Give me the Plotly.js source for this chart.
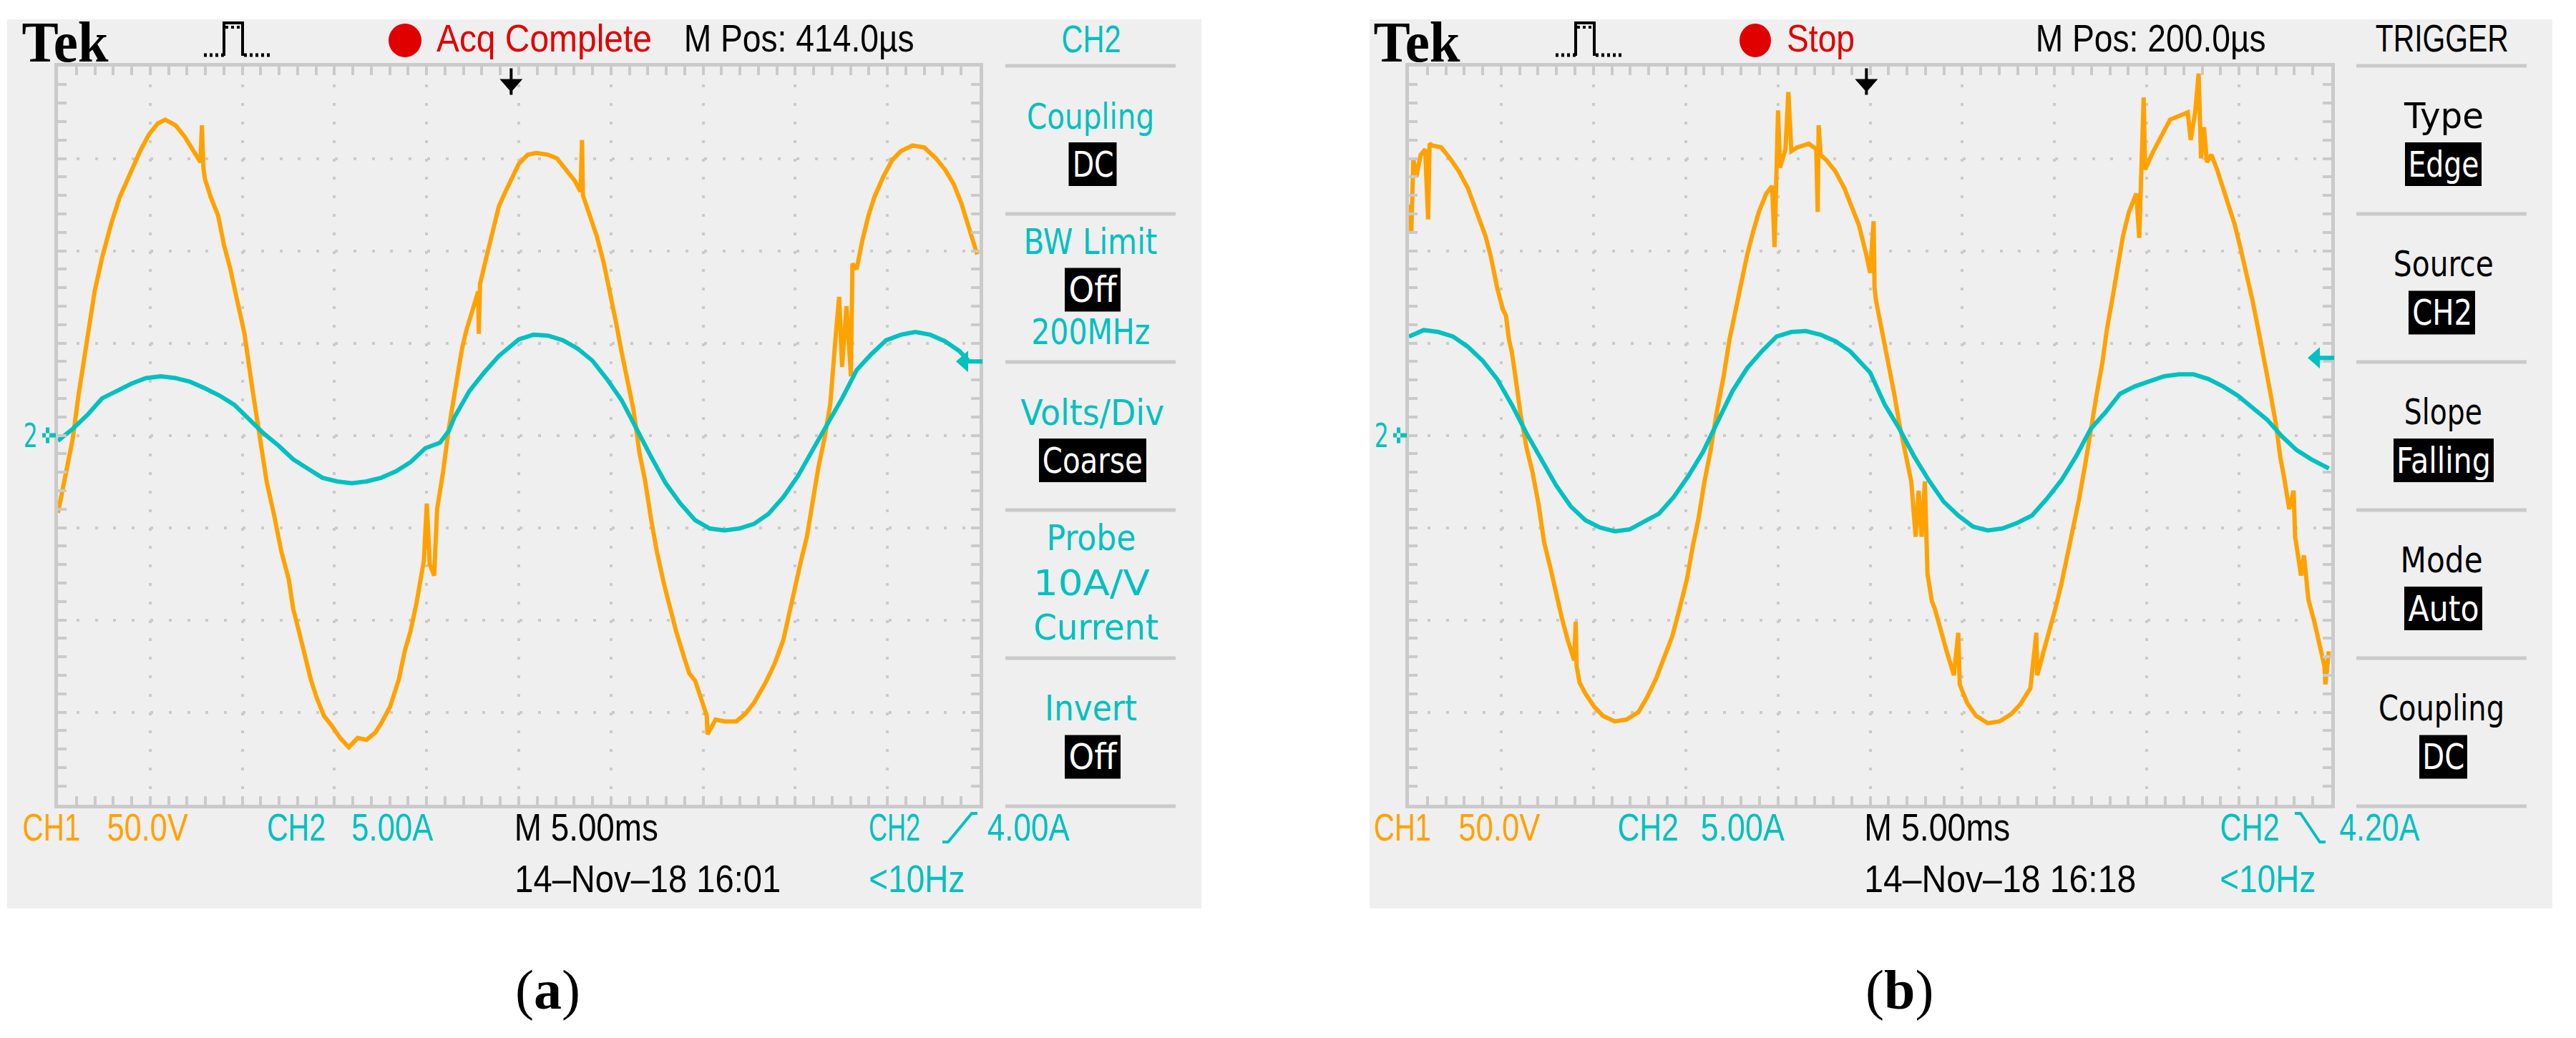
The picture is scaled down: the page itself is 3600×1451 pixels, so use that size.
<!DOCTYPE html>
<html><head><meta charset="utf-8">
<script src="https://cdn.plot.ly/plotly-3.0.1.min.js"></script>
<style>html,body{margin:0;padding:0;background:#fff;}#chart{width:3600px;height:1451px;}</style>
</head><body><div id="chart"></div>
<script>
// ---------------- DATA (time in ms from left edge of screen, CH1 in V, CH2 in A) ----------------
const ch1A = [[0.00,-42],[0.48,-17],[0.80,-2],[1.12,22],[1.43,42],[1.67,57],[1.99,78],[2.39,96],[2.87,114],[3.35,129],[3.91,142],[4.46,154],[4.94,163],[5.42,169],[5.82,171],[6.38,168],[6.86,162],[7.33,154],[7.73,148],[7.81,168],[7.89,145],[7.97,139],[8.29,129],[8.69,119],[9.01,103],[9.33,91],[9.73,73],[10.12,55],[10.52,27],[11.00,-4],[11.32,-25],[11.72,-43],[12.12,-63],[12.52,-78],[12.76,-94],[13.07,-106],[13.39,-119],[13.71,-132],[14.03,-142],[14.43,-152],[14.83,-157],[15.31,-164],[15.78,-169],[16.26,-164],[16.74,-165],[17.22,-161],[17.54,-156],[18.02,-147],[18.50,-132],[18.81,-117],[19.13,-106],[19.45,-91],[19.85,-68],[20.01,-37],[20.17,-70],[20.41,-76],[20.57,-40],[20.89,-20],[21.21,4],[21.44,19],[21.68,34],[21.92,47],[22.16,57],[22.48,68],[22.80,78],[22.83,55],[22.90,82],[23.28,98],[23.60,111],[23.92,124],[24.23,131],[24.63,140],[25.00,147],[25.48,152],[25.96,153],[26.59,152],[27.07,150],[27.55,144],[28.03,138],[28.35,132],[28.43,160],[28.48,130],[28.83,119],[29.23,108],[29.62,93],[29.94,78],[30.26,62],[30.58,45],[30.90,29],[31.22,14],[31.54,-9],[31.86,-25],[32.17,-45],[32.49,-63],[32.89,-81],[33.21,-94],[33.53,-106],[33.93,-119],[34.25,-129],[34.57,-133],[34.89,-143],[35.20,-152],[35.24,-162],[35.68,-154],[36.16,-155],[36.80,-155],[37.28,-151],[37.76,-145],[38.39,-134],[38.87,-124],[39.35,-111],[39.67,-96],[39.99,-83],[40.31,-68],[40.63,-55],[40.94,-35],[41.26,-17],[41.58,-2],[41.90,17],[42.22,57],[42.38,75],[42.54,37],[42.78,70],[43.02,32],[43.10,93],[43.33,90],[43.65,106],[43.97,119],[44.29,129],[44.77,140],[45.25,149],[45.73,154],[46.36,157],[47.00,156],[47.64,150],[48.12,144],[48.60,136],[49.00,126],[49.31,116],[49.63,106],[49.87,98]];
const ch2A = [[0,-0.3],[0.80,0.35],[1.59,1.1],[2.39,2.0],[3.19,2.4],[3.99,2.8],[4.78,3.1],[5.58,3.2],[6.38,3.1],[7.17,2.9],[7.97,2.55],[8.77,2.15],[9.57,1.65],[10.36,0.85],[11.16,0.1],[11.96,-0.55],[12.76,-1.3],[13.55,-1.8],[14.35,-2.3],[15.15,-2.5],[15.94,-2.6],[16.74,-2.5],[17.54,-2.3],[18.34,-1.95],[19.13,-1.45],[19.93,-0.7],[20.73,-0.4],[21.21,0.25],[21.52,1.0],[22.32,2.4],[23.12,3.4],[23.92,4.3],[25.00,5.2],[25.80,5.45],[26.59,5.4],[27.39,5.15],[28.19,4.7],[28.99,4.05],[29.78,3.05],[30.58,1.9],[31.38,0.35],[32.17,-1.15],[32.97,-2.6],[33.77,-3.7],[34.57,-4.6],[35.36,-5.05],[36.16,-5.15],[36.96,-5.05],[37.76,-4.8],[38.55,-4.25],[39.35,-3.35],[40.15,-2.2],[40.94,-0.8],[41.74,0.6],[42.54,2.0],[43.34,3.55],[44.13,4.4],[44.93,5.15],[45.73,5.45],[46.52,5.6],[47.32,5.45],[48.12,5.1],[48.92,4.55],[49.39,4.05]];
const ch1B = [[0.00,125],[0.13,110],[0.24,150],[0.40,140],[0.64,152],[0.88,155],[1.04,117],[1.12,158],[1.28,157],[1.75,156],[2.23,150],[2.71,143],[3.19,134],[3.67,121],[4.15,108],[4.46,96],[4.78,80],[5.10,68],[5.26,65],[5.42,52],[5.58,45],[5.74,34],[6.06,11],[6.38,-7],[6.70,-20],[7.02,-37],[7.33,-58],[7.65,-71],[7.97,-86],[8.29,-99],[8.61,-111],[8.96,-122],[9.04,-101],[9.09,-125],[9.25,-134],[9.57,-140],[10.04,-147],[10.52,-152],[11.16,-155],[11.80,-154],[12.44,-150],[12.91,-142],[13.39,-132],[13.87,-119],[14.27,-109],[14.67,-94],[15.07,-78],[15.39,-60],[15.70,-45],[16.02,-25],[16.34,-9],[16.66,11],[17.06,32],[17.38,52],[17.70,68],[18.02,83],[18.34,98],[18.65,110],[18.97,121],[19.37,131],[19.69,135],[19.82,102],[19.90,138],[20.01,176],[20.12,145],[20.41,155],[20.57,186],[20.73,154],[21.05,156],[21.68,158],[22.08,155],[22.16,121],[22.21,168],[22.32,152],[22.64,149],[23.12,143],[23.60,134],[23.99,124],[24.39,114],[24.79,98],[25.00,88],[25.19,116],[25.24,80],[25.32,73],[25.64,57],[25.96,40],[26.28,24],[26.59,6],[26.91,-9],[27.23,-25],[27.47,-55],[27.63,-30],[27.79,-55],[27.97,-25],[28.11,-75],[28.35,-90],[28.51,-94],[28.83,-106],[29.15,-117],[29.54,-130],[29.78,-107],[29.86,-135],[30.26,-145],[30.74,-152],[31.38,-156],[32.02,-155],[32.65,-151],[33.13,-146],[33.69,-137],[34.01,-107],[34.06,-130],[34.41,-117],[34.73,-106],[35.04,-94],[35.36,-81],[35.68,-66],[36.00,-50],[36.32,-35],[36.64,-17],[36.96,4],[37.28,22],[37.60,40],[37.83,57],[38.15,75],[38.47,93],[38.71,108],[39.03,121],[39.43,131],[39.59,107],[39.67,135],[39.83,183],[39.91,144],[40.31,153],[40.78,162],[41.26,171],[41.74,173],[42.22,175],[42.38,160],[42.62,175],[42.81,196],[42.94,150],[43.10,167],[43.26,148],[43.50,152],[43.81,144],[44.13,134],[44.45,124],[44.77,114],[45.09,101],[45.41,88],[45.73,73],[46.05,57],[46.36,42],[46.68,24],[47.00,6],[47.24,-12],[47.48,-25],[47.72,-40],[47.96,-30],[48.04,-55],[48.12,-60],[48.36,-76],[48.52,-65],[48.76,-89],[49.08,-101],[49.39,-114],[49.63,-125],[49.68,-135],[49.87,-117]];
const ch2B = [[0,5.35],[0.80,5.7],[1.59,5.6],[2.39,5.35],[3.19,4.8],[3.99,4.05],[4.78,3.05],[5.58,1.65],[6.38,0.1],[7.17,-1.3],[7.97,-2.7],[8.77,-3.85],[9.57,-4.6],[10.36,-5.0],[11.16,-5.2],[11.96,-5.1],[12.76,-4.7],[13.55,-4.25],[14.35,-3.35],[15.15,-2.2],[15.94,-0.9],[16.74,0.75],[17.54,2.4],[18.34,3.65],[19.13,4.55],[19.93,5.35],[20.73,5.6],[21.52,5.65],[22.32,5.45],[23.12,5.1],[23.92,4.55],[25.00,3.4],[25.80,1.65],[26.59,0.35],[27.39,-1.15],[28.19,-2.45],[28.99,-3.6],[29.78,-4.35],[30.58,-4.95],[31.38,-5.15],[32.17,-5.05],[32.97,-4.75],[33.77,-4.35],[34.57,-3.45],[35.36,-2.45],[36.16,-1.15],[36.96,0.35],[37.76,1.25],[38.55,2.25],[39.35,2.65],[40.15,2.95],[40.94,3.2],[41.74,3.3],[42.54,3.3],[43.34,3.05],[44.13,2.65],[44.93,2.15],[45.73,1.5],[46.52,0.85],[47.32,-0.05],[48.12,-0.8],[48.92,-1.3],[49.87,-1.8]];

const msPerDiv = 5, voltsPerDiv = 50, ampsPerDiv = 5, divX = 10, divY = 8;
const mPosA = 0.414, mPosB = 0.200;          // ms, horizontal trigger position
const trigLevelA = 4.00, trigLevelB = 4.20;  // A, CH2 trigger level

// text labels
const topTextA = ['Tek', 'Acq Complete', 'M Pos: 414.0µs'];
const topTextB = ['Tek', 'Stop', 'M Pos: 200.0µs'];
const bottomTextA = ['CH1', '50.0V', 'CH2', '5.00A', 'M 5.00ms', 'CH2', '4.00A', '14–Nov–18 16:01', '<10Hz'];
const bottomTextB = ['CH1', '50.0V', 'CH2', '5.00A', 'M 5.00ms', 'CH2', '4.20A', '14–Nov–18 16:18', '<10Hz'];
const menuTextA = ['CH2', 'Coupling', 'DC', 'BW Limit', 'Off', '200MHz', 'Volts/Div', 'Coarse', 'Probe', '10A/V', 'Current', 'Invert', 'Off'];
const menuTextB = ['TRIGGER', 'Type', 'Edge', 'Source', 'CH2', 'Slope', 'Falling', 'Mode', 'Auto', 'Coupling', 'DC'];
const captions = ['a', 'b'];

// ---------------- STYLE / LAYOUT ----------------
const W = 3600, H = 1451;
const ORANGE = '#FFA200', CYAN = '#00C0C0', GRID = '#CACACA', PANEL = '#EFEFEF', RED = '#E00000';
const SANS = '"DejaVu Sans","Liberation Sans",sans-serif';
const STATUS = '"Liberation Sans",Arial,sans-serif';
const SERIF = '"Liberation Serif","Times New Roman",serif';
const px = x => x / W, py = y => 1 - y / H;

const plotY = [92.5, 1124.5];
const plotAx = [81, 1369], plotBx = [1969, 3258];

function xAxis(dom, anchor) {
  return {domain:[px(dom[0]), px(dom[1])], anchor, range:[0, msPerDiv*divX], fixedrange:true,
    showline:true, linecolor:GRID, linewidth:5, mirror:'ticks',
    ticks:'inside', ticklen:12, tickwidth:4, tickcolor:GRID, tick0:0, dtick:msPerDiv,
    minor:{tick0:0, dtick:msPerDiv/5, ticks:'inside', ticklen:12, tickwidth:4, tickcolor:GRID, showgrid:false},
    showgrid:true, gridcolor:GRID, gridwidth:4, griddash:'4px,21.8px',
    zeroline:false, showticklabels:false};
}
function yAxis(anchor, perDiv) {
  return {domain:[py(plotY[1]), py(plotY[0])], anchor, range:[-perDiv*divY/2, perDiv*divY/2], fixedrange:true,
    showline:true, linecolor:GRID, linewidth:5, mirror:'ticks',
    ticks:'inside', ticklen:12, tickwidth:4, tickcolor:GRID, tick0:0, dtick:perDiv,
    minor:{tick0:0, dtick:perDiv/5, ticks:'inside', ticklen:12, tickwidth:4, tickcolor:GRID, showgrid:false},
    showgrid:true, gridcolor:GRID, gridwidth:4, griddash:'4px,21.8px',
    zeroline:false, showticklabels:false};
}
function overlayY(over, anchor, perDiv) {
  return {overlaying:over, anchor, range:[-perDiv*divY/2, perDiv*divY/2], visible:false, fixedrange:true};
}
function centerX(over, posPx) {
  return {overlaying:over, anchor:'free', position:py(posPx), side:'bottom', range:[0, msPerDiv*divX], fixedrange:true,
    showline:false, showgrid:false, zeroline:false, showticklabels:false,
    ticks:'outside', ticklen:14, tickwidth:4, tickcolor:GRID, tick0:0, dtick:msPerDiv/5};
}
function centerY(over, posPx, perDiv) {
  return {overlaying:over, anchor:'free', position:px(posPx), side:'left', range:[-perDiv*divY/2, perDiv*divY/2], fixedrange:true,
    showline:false, showgrid:false, zeroline:false, showticklabels:false,
    ticks:'outside', ticklen:14, tickwidth:4, tickcolor:GRID, tick0:0, dtick:perDiv/5};
}

const cy = (plotY[0] + plotY[1]) / 2;
const cxA = (plotAx[0] + plotAx[1]) / 2, cxB = (plotBx[0] + plotBx[1]) / 2;

const traces = [
  {x:ch1A.map(p=>p[0]), y:ch1A.map(p=>p[1]), xaxis:'x', yaxis:'y', mode:'lines', line:{color:ORANGE, width:6}, hoverinfo:'skip'},
  {x:ch2A.map(p=>p[0]), y:ch2A.map(p=>p[1]), xaxis:'x', yaxis:'y2', mode:'lines', line:{color:CYAN, width:6}, hoverinfo:'skip'},
  {x:ch1B.map(p=>p[0]), y:ch1B.map(p=>p[1]), xaxis:'x2', yaxis:'y3', mode:'lines', line:{color:ORANGE, width:6}, hoverinfo:'skip'},
  {x:ch2B.map(p=>p[0]), y:ch2B.map(p=>p[1]), xaxis:'x2', yaxis:'y4', mode:'lines', line:{color:CYAN, width:6}, hoverinfo:'skip'}
];

// ---------------- SHAPES & ANNOTATIONS ----------------
const shapes = [], annotations = [], fits = [];
function rectPx(x0,y0,x1,y1,fill,layer){ shapes.push({type:'rect', xref:'paper', yref:'paper', x0:px(x0), x1:px(x1), y0:py(y1), y1:py(y0), fillcolor:fill, line:{width:0}, layer:layer||'above'}); }
function linePx(x0,y0,x1,y1,color,w){ shapes.push({type:'line', xref:'paper', yref:'paper', x0:px(x0), x1:px(x1), y0:py(y0), y1:py(y1), line:{color, width:w}}); }
// text spanning [x0,x1] horizontally, vertically centred on the cap height at yc
function T(text, x0, x1, yc, size, color, o) {
  o = o || {};
  annotations.push({text, x:px((x0+x1)/2), y:py(yc), xref:'paper', yref:'paper', xanchor:'center', yanchor:'middle',
    showarrow:false, borderpad:0, font:{family:o.family||SANS, size, color, weight:o.weight||'normal'}});
  fits.push(o.nofit ? null : (x1 - x0));
}
const S = 53, MS = 50;

function panel(p) {
  rectPx(p.x0, 27, p.x1, 1270, PANEL, 'below');
  const d = p.dx, tt = p.top, bt = p.bottom;
  // top status bar
  T(tt[0], 31+d, 152+d, 58.5, 80, '#000', {family:SERIF, weight:'bold'});
  const icon = {type:'path', xref:'paper', yref:'paper', xsizemode:'pixel', ysizemode:'pixel', xanchor:px(285+d), yanchor:py(80)};
  shapes.push(Object.assign({}, icon, {path:'M28,2 V48 H54 V2', line:{color:'#000', width:4}}));
  shapes.push(Object.assign({}, icon, {path:'M0,3 H28 M56,3 H92', line:{color:'#000', width:5, dash:'4px,4px'}}));
  shapes.push(Object.assign({}, icon, {path:'M30,42 H54', line:{color:'#000', width:4, dash:'4px,4px'}}));
  shapes.push({type:'circle', xref:'paper', yref:'paper', x0:px(p.dot[0]), x1:px(p.dot[1]), y0:py(80), y1:py(33), fillcolor:RED, line:{width:0}});
  T(tt[1], p.state[0], p.state[1], 53.5, S, RED, {family:STATUS});
  T(tt[2], p.mpos[0], p.mpos[1], 53.5, S, '#000', {family:STATUS});
  // bottom status bar
  const cols = [ORANGE, ORANGE, CYAN, CYAN, '#000', CYAN, CYAN, '#000', CYAN];
  const rows = [1156, 1156, 1156, 1156, 1156, 1156, 1156, 1228.5, 1228.5];
  bt.forEach((s, k) => T(s, p.bx[k][0], p.bx[k][1], rows[k], S, cols[k], {family:STATUS}));
  // slope symbol
  const s0 = p.slope[0], s1 = p.slope[1];
  const path = p.rising
    ? `M${px(s0)},${py(1177)} L${px(s0+8)},${py(1177)} L${px(s1-8)},${py(1137)} L${px(s1)},${py(1137)}`
    : `M${px(s0)},${py(1137)} L${px(s0+8)},${py(1137)} L${px(s1-8)},${py(1177)} L${px(s1)},${py(1177)}`;
  shapes.push({type:'path', xref:'paper', yref:'paper', path, line:{color:CYAN, width:4}});
  // caption
  T('(<b>'+p.cap+'</b>)', p.capX-40, p.capX+40, 1383, 78, '#000', {family:SERIF, nofit:true});
  // side menu
  [92,299,506,713,920,1127].forEach(y => linePx(p.menuX-119, y, p.menuX+119, y, GRID, 5));
  p.menu.forEach((s, k) => {
    const m = p.mlay[k];  // [centre x, centre y, text width, box width or 0]
    if (m[3]) rectPx(m[0]-m[3]/2, m[1]-30.5, m[0]+m[3]/2, m[1]+30.5, '#000');
    if (k === 0) T(s, m[0]-m[2]/2, m[0]+m[2]/2, m[1], S, p.menuColor, {family:STATUS});
    else T(s, m[0]-m[2]/2, m[0]+m[2]/2, m[1], MS, m[3] ? '#fff' : p.menuColor);
  });
}

panel({x0:10, x1:1679, dx:0, top:topTextA, bottom:bottomTextA, dot:[543,589], state:[610,911], mpos:[955,1277],
  bx:[[31,112],[150,263],[373,455],[491,605],[719,920],[1214,1286],[1380,1495],[719,1091],[1214,1348]],
  slope:[1317,1366], rising:true, cap:captions[0], capX:765,
  menu:menuTextA, menuX:1524, menuColor:CYAN,
  mlay:[[1524.5,55,83,0],[1524,162.5,178,0],[1527,229.5,58,67],[1523.5,338,187,0],[1527,405,67,78],[1524,464,166,0],
        [1526.5,576.5,201,0],[1527,643.5,140,150],[1524.5,752,125,0],[1525.5,815,163,0],[1531.5,877,175,0],[1524.5,990,129,0],[1527,1058,67,78]]});
panel({x0:1914, x1:3567, dx:1889, top:topTextB, bottom:bottomTextB, dot:[2431,2475], state:[2497,2592], mpos:[2844,3166],
  bx:[[1920,2000],[2038,2152],[2260,2345],[2377,2494],[2605,2809],[3102,3185],[3269,3381],[2605,2985],[3102,3236]],
  slope:[3207,3250], rising:false, cap:captions[1], capX:2654,
  menu:menuTextB, menuX:3412, menuColor:'#000',
  mlay:[[3412,53.5,186,0],[3414.5,162,111,0],[3414.5,229.5,99,107],[3415,369,140,0],[3412.5,437,84,93],[3414.5,576,109,0],
        [3415,643.5,132,140],[3411.5,783,115,0],[3414.5,850.5,99,109],[3412,990,176,0],[3414.5,1058,59,67]]});

// trigger position arrows (top), trigger level arrows (right), ground markers (left)
function topArrow(xref, t) {
  shapes.push({type:'path', xref, yref:'paper', xsizemode:'pixel', ysizemode:'pixel', xanchor:t, yanchor:py(plotY[0]),
    path:'M-2,-3 L2,-3 L2,-18 L16,-18 L2,-34 L2,-40 L-2,-40 L-2,-34 L-16,-18 L-2,-18 Z', fillcolor:'#000', line:{width:0}});
}
topArrow('x', msPerDiv*divX/2 - mPosA);
topArrow('x2', msPerDiv*divX/2 - mPosB);
function levelArrow(yref, xPx, lvl) {
  shapes.push({type:'path', xref:'paper', yref, xsizemode:'pixel', ysizemode:'pixel', xanchor:px(xPx), yanchor:lvl,
    path:'M-33,0 L-16,15 L-16,3 L4,3 L4,-3 L-16,-3 L-16,-15 Z', fillcolor:CYAN, line:{width:0}});
}
levelArrow('y2', plotAx[1], trigLevelA);
levelArrow('y4', plotBx[1], trigLevelB);
function ground(yref, xPx) {
  annotations.push({text:'2', x:px(xPx-39), y:0, xref:'paper', yref, xanchor:'center', yanchor:'middle', showarrow:false,
    borderpad:0, font:{family:SANS, size:46, color:CYAN}});
  fits.push(20);
  shapes.push({type:'path', xref:'paper', yref, xsizemode:'pixel', ysizemode:'pixel', xanchor:px(xPx), yanchor:0,
    path:'M-22,3 L-3,3 L-3,-3 L-22,-3 Z M-17,11 L-12,11 L-12,-11 L-17,-11 Z', fillcolor:CYAN, line:{width:0}});
}
ground('y2', plotAx[0]);
ground('y4', plotBx[0]);

const layout = {
  width:W, height:H, margin:{l:0, r:0, t:0, b:0}, showlegend:false,
  paper_bgcolor:'#fff', plot_bgcolor:'#fff',
  xaxis: xAxis(plotAx, 'y'),
  yaxis: yAxis('x', voltsPerDiv),
  yaxis2: overlayY('y', 'x', ampsPerDiv),
  xaxis2: xAxis(plotBx, 'y3'),
  yaxis3: yAxis('x2', voltsPerDiv),
  yaxis4: overlayY('y3', 'x2', ampsPerDiv),
  xaxis3: centerX('x', cy - 7),
  yaxis5: centerY('y', cxA + 7, voltsPerDiv),
  xaxis4: centerX('x2', cy - 7),
  yaxis6: centerY('y3', cxB + 7, voltsPerDiv),
  shapes, annotations
};
const gd = document.getElementById('chart');
Plotly.newPlot(gd, traces, layout, {staticPlot:true, displayModeBar:false}).then(() => {
  // condense the status/menu texts to the narrow widths of the scope's own font
  gd.querySelectorAll('g.annotation').forEach(g => {
    const i = +g.getAttribute('data-index');
    const w = fits[i];
    if (!w) return;
    const t = g.querySelector('text.annotation-text');
    if (!t) return;
    t.setAttribute('textLength', w);
    t.setAttribute('lengthAdjust', 'spacingAndGlyphs');
    const r = g.querySelector('rect.bg');
    if (r) {
      const ow = +r.getAttribute('width'), ox = +r.getAttribute('x');
      r.setAttribute('x', ox + (ow - w) / 2);
      r.setAttribute('width', w);
    }
  });
});
</script></body></html>
